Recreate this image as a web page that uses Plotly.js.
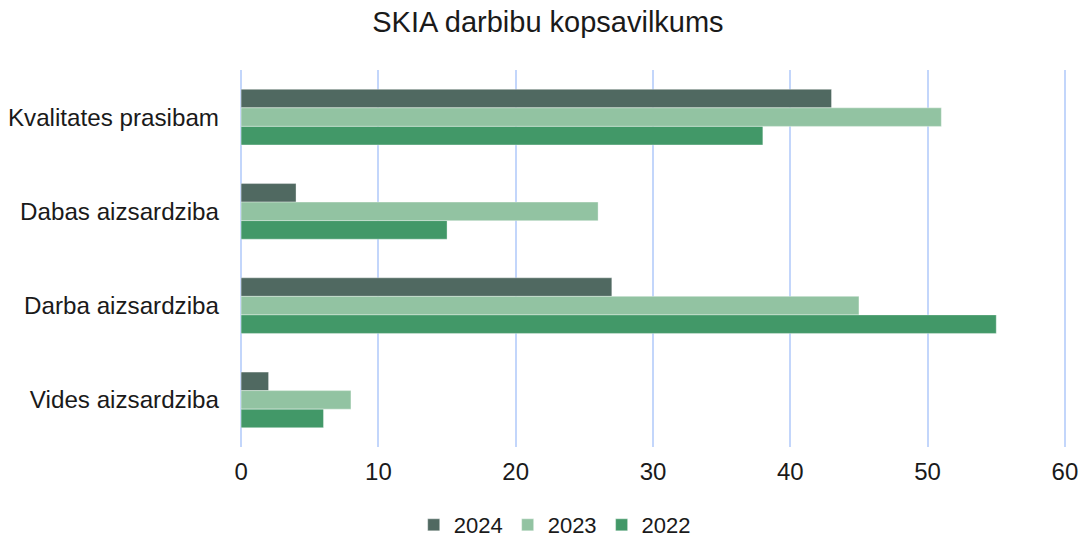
<!DOCTYPE html>
<html>
<head>
<meta charset="utf-8">
<script src="https://cdn.plot.ly/plotly-3.0.1.min.js"></script>
<style>html,body{margin:0;padding:0;background:#fff;}#chart{width:1085px;height:539px;}</style>
</head>
<body>
<div id="chart"></div>
<script>
const categories = ["Kvalitates prasibam", "Dabas aizsardziba", "Darba aizsardziba", "Vides aizsardziba"];
const seriesNames = ["2024", "2023", "2022"];
const values2024 = [43, 4, 27, 2];
const values2023 = [51, 26, 45, 8];
const values2022 = [38, 15, 55, 6];
const xTicks = [0, 10, 20, 30, 40, 50, 60];

const colors = ["#506961", "#92c3a2", "#429868"];
const allValues = [values2024, values2023, values2022];

const traces = allValues.map((vals, i) => ({
  type: "bar",
  orientation: "h",
  name: seriesNames[i],
  x: vals,
  y: categories,
  marker: {color: colors[i], line: {color: "rgba(255,255,255,0.35)", width: 1}},
  hoverinfo: "x+name"
}));

const layout = {
  width: 1085,
  height: 539,
  autosize: false,
  margin: {l: 240, r: 19, t: 70, b: 92, autoexpand: false},
  paper_bgcolor: "#fff",
  plot_bgcolor: "#fff",
  font: {family: "Liberation Sans, Arial, sans-serif", color: "#1a1a1a", size: 24},
  title: {text: "SKIA darbibu kopsavilkums", x: 0.505, xref: "container", y: 0.96, yanchor: "middle", xanchor: "center", font: {size: 29, color: "#1a1a1a"}},
  barmode: "group",
  bargap: 0.41,
  bargroupgap: 0,
  xaxis: {
    range: [-0.08, 60.08],
    tickvals: xTicks,
    ticktext: xTicks.map(String),
    showgrid: true,
    gridcolor: "#c3d6fb",
    gridwidth: 2,
    zeroline: false,
    showline: false,
    ticks: "",
    ticklabelstandoff: 8,
    tickfont: {size: 24}
  },
  yaxis: {
    autorange: "reversed",
    showgrid: false,
    zeroline: false,
    showline: false,
    ticks: "",
    ticklabelstandoff: 20,
    tickfont: {size: 24.2}
  },
  legend: {
    orientation: "h",
    x: 0.381,
    xanchor: "center",
    y: -0.207,
    yanchor: "middle",
    font: {size: 22},
    traceorder: "normal"
  },
  showlegend: true
};

Plotly.newPlot("chart", traces, layout, {displayModeBar: false, staticPlot: true});
</script>
</body>
</html>
